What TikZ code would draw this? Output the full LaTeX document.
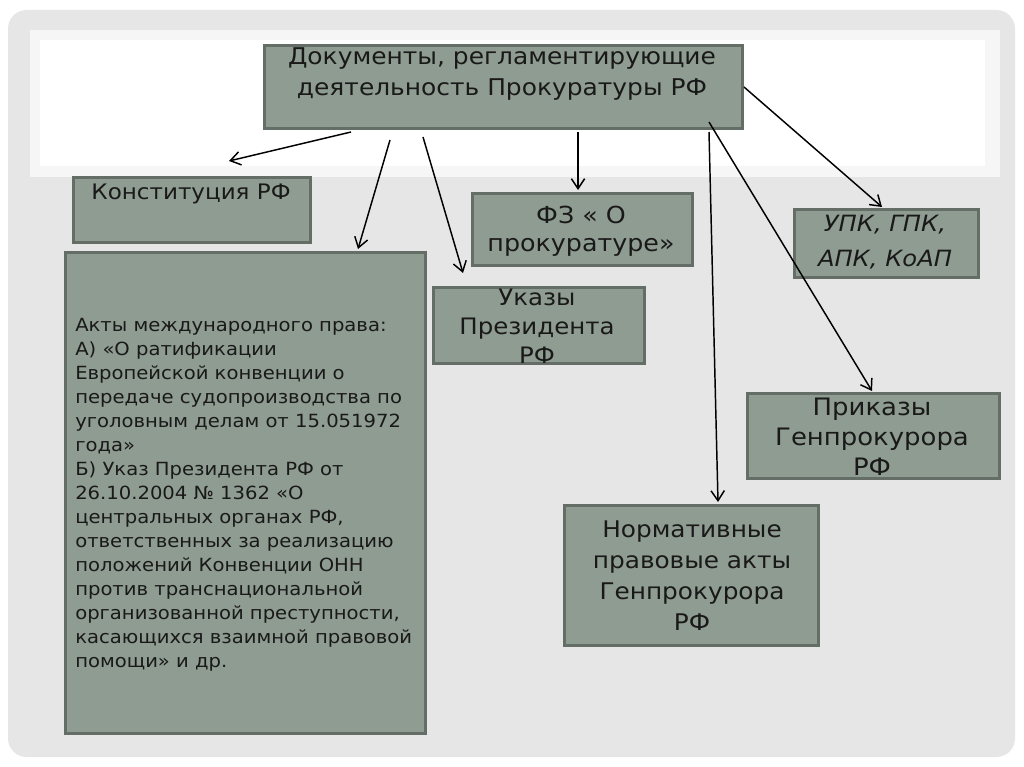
\documentclass[tikz,border=0pt]{standalone}
\usepackage{fontspec}
\setmainfont{DejaVu Sans}[FakeStretch=1.08]
\usetikzlibrary{arrows.meta}
\definecolor{panel}{RGB}{230,230,230}
\definecolor{offwhite}{RGB}{246,246,246}
\definecolor{boxfill}{RGB}{143,156,145}
\definecolor{boxedge}{RGB}{100,110,102}
\definecolor{ink}{RGB}{25,25,25}
\tikzset{
  box/.style={draw=boxedge, line width=2.2pt, fill=boxfill, inner sep=0pt, anchor=north west},
  txt/.style={text=ink, align=center, inner sep=0pt},
  arr/.style={draw=black, line width=1.1pt, -{Straight Barb[length=7.5pt, width=10pt, line width=1.1pt]}}
}
\begin{document}
\begin{tikzpicture}[x=0.75pt, y=-0.75pt]
\useasboundingbox (0,0) rectangle (1024,767);
\fill[white] (0,0) rectangle (1024,767);
\fill[panel, rounded corners=14pt] (8,10) rectangle (1015,757);
\fill[offwhite] (30,30) rectangle (1000,177);
\fill[white] (40,40) rectangle (985,166);

% boxes
\node[box, minimum width=358.5pt, minimum height=62pt] (top) at (263,44) {};
\node[box, minimum width=177.75pt, minimum height=48.75pt] (konst) at (72,176) {};
\node[box, minimum width=270pt, minimum height=360.75pt] (intl) at (64,251) {};
\node[box, minimum width=165pt, minimum height=54pt] (fz) at (471,192) {};
\node[box, minimum width=158.25pt, minimum height=57pt] (ukazy) at (432,286) {};
\node[box, minimum width=138pt, minimum height=51pt] (upk) at (793,208) {};
\node[box, minimum width=189pt, minimum height=63.75pt] (prikazy) at (746,392) {};
\node[box, minimum width=190.5pt, minimum height=105pt] (npa) at (563,504) {};

% texts
\node[txt, font=\fontsize{17.3}{23.25}\selectfont] at (502,74) {Документы, регламентирующие\\деятельность Прокуратуры РФ};
\node[txt, font=\fontsize{16}{20}\selectfont] at (191,194) {Конституция РФ};
\node[txt, font=\fontsize{17.6}{21}\selectfont] at (581,231) {ФЗ « О\\прокуратуре»};
\node[txt, font=\fontsize{17}{21.75}\selectfont] at (537,326) {Указы\\Президента\\РФ};
\node[txt, font=\fontsize{16.8}{26}\itshape\selectfont] at (885,242) {УПК, ГПК,\\АПК, КоАП};
\node[txt, font=\fontsize{18}{22.5}\selectfont] at (872,437) {Приказы\\Генпрокурора\\РФ};
\node[txt, font=\fontsize{17.2}{23.25}\selectfont] at (692,575.5) {Нормативные\\правовые акты\\Генпрокурора\\РФ};
\node[txt, align=left, anchor=west, font=\fontsize{13.6}{18}\selectfont] at (75,494.5) {Акты международного права:\\
А) «О ратификации\\
Европейской конвенции о\\
передаче судопроизводства по\\
уголовным делам от 15.051972\\
года»\\
Б) Указ Президента РФ от\\
26.10.2004 № 1362 «О\\
центральных органах РФ,\\
ответственных за реализацию\\
положений Конвенции ОНН\\
против транснациональной\\
организованной преступности,\\
касающихся взаимной правовой\\
помощи» и др.};

% connector ends
\coordinate (s1) at (351,132); \coordinate (e1) at (229,161);
\coordinate (s2) at (390,140); \coordinate (e2) at (358,249);
\coordinate (s3) at (423,137); \coordinate (e3) at (463,273);
\coordinate (s4) at (578,132); \coordinate (e4) at (578,190);
\coordinate (s5) at (744,87);  \coordinate (e5) at (882,207);
\coordinate (s6) at (709,122); \coordinate (e6) at (872,391);
\coordinate (s7) at (709,132); \coordinate (e7) at (718,502);

\draw[arr] (s1) -- (e1);
\draw[arr] (s2) -- (e2);
\draw[arr] (s3) -- (e3);
\draw[arr] (s4) -- (e4);
\draw[arr] (s5) -- (e5);
\draw[arr] (s6) -- (e6);
\draw[arr] (s7) -- (e7);
\end{tikzpicture}
\end{document}
